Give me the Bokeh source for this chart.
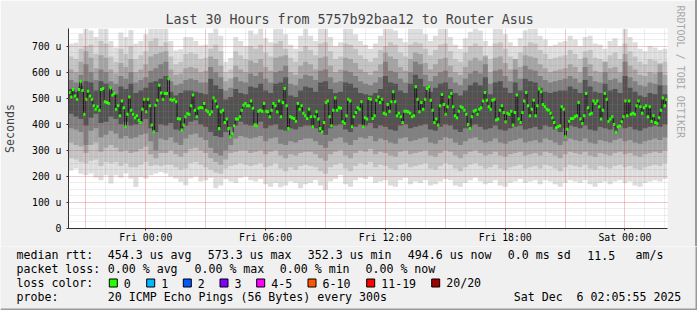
from bokeh.plotting import figure
from bokeh.layouts import column, row
from bokeh.models import FixedTicker, Title, ColumnDataSource, Range1d, Spacer
from bokeh.core.properties import value
from bokeh.embed import file_html
from bokeh.resources import INLINE

# ---------------- data ----------------
T_START = -3.87          # hours relative to Fri 00:00
T_END = 26.13
Y_TOP = 767.5            # microseconds
SMOKE_STEP = 0.25        # hours per smoke column

smoke_max = [709,713,747,770,760,735,770,770,720,695,752,735,762,709,720,745,770,770,770,770,720,683,688,735,
             735,720,702,705,750,770,740,640,655,735,720,700,760,745,770,730,715,770,770,745,705,690,740,770,
             740,720,770,770,735,700,715,770,770,745,720,705,690,710,740,770,770,760,730,715,770,770,770,745,
             720,740,770,770,735,705,690,730,755,770,760,720,700,770,770,745,715,700,730,760,770,770,740,725,
             700,705,715,720,740,725,700,735,740,710,705,690,720,730,700,770,735,715,690,680,700,695,685,690]
smoke_b2_hi = [660,650,690,700,705,670,720,710,660,640,690,670,700,650,665,680,720,730,700,715,660,630,640,670,
               675,670,650,655,690,705,680,600,610,680,665,650,700,690,705,675,660,710,720,690,655,640,680,700,
               685,665,710,715,680,650,660,710,705,690,665,650,640,655,685,700,715,705,675,660,705,715,710,690,
               665,685,705,710,680,650,640,675,700,710,700,665,650,710,715,690,660,650,675,700,715,710,685,670,
               650,655,660,665,685,670,650,680,685,655,650,640,665,675,650,710,680,660,640,630,650,645,635,640]
smoke_b3_hi = [610,600,640,680,655,615,665,655,610,595,635,620,650,600,610,630,660,670,675,680,610,590,595,615,
               620,615,600,605,660,650,625,565,575,625,610,600,645,635,650,620,605,655,660,665,600,590,625,640,
               630,610,655,660,625,600,610,655,650,635,610,600,590,605,630,675,660,650,620,605,650,675,670,635,
               610,630,650,655,625,600,590,620,645,655,645,660,600,655,660,635,610,650,620,665,660,655,630,615,
               600,605,610,615,630,620,600,655,630,605,600,640,615,620,600,670,625,610,590,585,600,595,630,590]
smoke_b4_hi = [570,560,590,630,600,570,610,600,565,555,585,575,600,560,570,580,605,615,630,640,565,550,555,570,
               575,570,560,560,620,600,580,530,540,580,565,560,595,585,600,575,560,600,605,625,555,550,575,590,
               585,570,605,610,580,560,565,605,600,585,565,555,550,560,580,640,605,600,575,560,600,640,630,590,
               565,585,600,605,580,560,550,575,595,605,595,630,555,605,610,585,565,610,575,625,610,605,585,570,
               560,565,570,575,585,575,560,620,585,565,560,600,570,575,560,640,580,565,550,545,560,555,600,550]
smoke_b5_hi = [535,525,550,565,560,530,565,555,530,515,545,535,555,520,530,540,560,565,575,585,525,510,520,530,
               530,525,520,515,575,550,535,495,505,535,520,515,545,540,555,530,520,555,560,580,510,505,530,545,
               540,525,560,565,535,520,525,560,555,540,520,515,510,520,535,585,560,555,530,520,555,590,575,545,
               525,540,555,560,535,520,510,530,550,560,550,580,515,560,565,540,520,560,530,575,565,560,540,525,
               520,525,530,530,545,535,520,570,545,525,520,555,530,535,520,585,540,525,510,505,520,515,550,515]
smoke_b5_lo = [440,430,420,395,425,440,405,410,430,420,400,410,395,400,410,420,385,370,400,395,405,380,375,395,
               410,415,400,390,370,355,350,370,390,395,410,400,395,405,410,385,395,400,380,375,385,380,390,395,
               395,385,370,360,385,395,400,380,370,390,400,395,405,385,395,390,380,375,395,400,385,390,395,400,
               380,375,390,400,395,380,370,385,395,400,390,380,385,395,380,375,385,390,395,380,385,390,380,395,
               390,380,370,385,395,390,385,395,380,375,390,385,380,390,395,385,390,380,375,385,390,395,390,400]
smoke_b4_lo = [385,380,370,320,375,385,350,360,375,365,345,355,345,350,360,365,335,300,345,340,350,330,320,345,
               360,365,350,340,310,290,280,300,320,345,355,350,345,350,355,335,345,350,325,320,335,330,340,345,
               345,335,320,310,335,345,350,330,320,340,350,345,355,335,345,340,330,325,345,350,335,340,345,350,
               330,325,340,350,345,330,320,335,345,350,340,330,335,345,330,325,335,340,345,330,335,340,330,345,
               340,330,320,335,345,340,335,345,330,325,340,335,330,340,345,335,340,330,325,335,340,345,340,350]
smoke_b3_lo = [330,320,315,290,320,330,295,310,320,310,295,300,290,295,305,315,285,270,290,290,300,285,275,290,
               305,310,300,290,270,255,245,265,290,295,300,300,290,295,300,285,295,300,280,270,285,280,290,295,
               295,285,270,260,285,295,300,280,270,290,300,295,305,285,295,290,280,275,295,300,285,290,295,300,
               280,275,290,300,295,280,270,285,295,300,290,280,285,295,280,275,285,290,295,280,285,290,280,295,
               290,280,270,285,295,290,285,295,280,275,290,285,280,290,295,285,290,280,275,285,290,295,290,300]
smoke_b2_lo = [270,265,255,250,260,265,240,255,250,255,240,250,235,235,245,255,240,245,240,245,245,235,225,230,
               250,255,245,235,225,215,210,230,240,245,250,245,240,245,250,235,240,250,230,220,235,225,240,245,
               240,235,220,210,235,245,250,230,220,240,250,245,255,235,245,240,230,225,245,250,235,240,245,250,
               230,225,240,250,245,230,220,235,245,250,240,230,235,245,230,225,235,240,245,230,235,240,230,245,
               240,230,220,235,245,240,235,245,230,225,240,235,230,240,245,235,240,230,225,235,240,245,240,250]
smoke_min = [223,230,210,204,211,196,185,204,173,204,195,211,192,159,198,192,204,211,217,211,200,192,179,166,
             193,200,180,185,195,154,165,190,180,175,195,200,185,180,190,170,160,175,158,165,180,175,154,170,
             175,185,165,148,180,190,205,170,160,185,195,190,200,175,180,185,165,160,185,195,170,180,175,185,
             165,170,180,190,185,165,160,175,185,195,180,170,175,185,165,160,175,180,190,175,180,185,170,185,
             180,170,160,175,185,180,175,185,170,160,175,180,170,180,185,175,180,165,160,175,180,185,180,190]

median_rtt = [
    522,505,533,508,496,533,565,530,438,496,527,508,496,471,458,467,454,533,537,486,
    484,480,540,512,518,458,471,433,489,463,390,438,505,454,438,425,433,415,407,458,
    496,448,496,471,397,371,473,492,550,520,496,518,518,575,496,492,496,486,422,420,
    378,397,429,440,
    438,471,512,454,429,461,464,463,480,454,448,438,448,501,489,467,384,448,454,407,
    420,384,352,365,394,420,420,429,454,473,480,471,471,489,461,397,394,450,454,450,
    480,450,448,429,454,480,471,448,489,429,484,537,471,384,429,425,422,412,480,458,
    471,442,433,422,
    458,429,390,429,448,420,384,371,407,484,489,429,394,454,501,454,463,461,410,403,
    433,496,489,390,429,445,463,458,486,390,425,420,499,496,422,433,492,505,484,496,
    442,438,476,450,486,525,486,433,442,429,407,450,450,448,442,429,433,544,496,448,
    484,458,496,537,
    544,492,454,407,420,397,471,514,476,438,467,505,518,467,433,425,450,467,463,454,
    438,399,384,429,450,454,438,458,463,489,522,492,467,458,492,496,416,420,454,471,
    445,410,442,438,450,397,445,512,420,407,445,489,522,471,433,458,492,433,471,535,
    525,476,467,458,
    454,442,425,407,387,390,394,467,458,352,381,412,422,422,429,433,484,420,403,433,
    518,463,438,442,489,480,489,467,420,454,518,496,412,420,429,399,369,390,394,410,
    429,489,433,489,438,442,438,471,489,467,442,463,471,429,467,412,433,407,403,425,
    454,501,471,495]

x_label_ticks = [0, 6, 12, 18, 24]
x_tick_labels = ["Fri 00:00", "Fri 06:00", "Fri 12:00", "Fri 18:00", "Sat 00:00"]
x_major_grid = [-3, 0, 3, 6, 9, 12, 15, 18, 21, 24]
x_minor_grid = list(range(-3, 27))
y_ticks = [0, 100, 200, 300, 400, 500, 600, 700]
y_tick_labels = ["0", "100 u", "200 u", "300 u", "400 u", "500 u", "600 u", "700 u"]
y_minor = [v * 25 for v in range(0, 31)]

title_text = "Last 30 Hours from 5757b92baa12 to Router Asus"
watermark_text = "RRDTOOL / TOBI OETIKER"
stats_rtt = ["454.3 us avg", "573.3 us max", "352.3 us min", "494.6 us now", "0.0 ms sd", "11.5", "am/s"]
stats_loss = ["0.00 % avg", "0.00 % max", "0.00 % min", "0.00 % now"]
loss_labels = ["0", "1", "2", "3", "4-5", "6-10", "11-19", "20/20"]
loss_colors = ["#26ff00", "#00b8ff", "#0059ff", "#7e00ff", "#ff00ff", "#ff5500", "#ff0000", "#a10000"]
probe_text = "20 ICMP Echo Pings (56 Bytes) every 300s"
date_text = "Sat Dec\u00a0 6 02:05:55 2025"

# ---------------- layout constants (canvas px) ----------------
W, H = 697, 310
FL, FR, FT, FB = 67, 667, 28, 228
TOP_H = 246                       # height of the chart figure
EDGE = 2                          # rrdtool frame shade width
MONO = "DejaVu Sans Mono"
BG = "#f0f0f0"
SHADE = "#9a9a9a"

PW = W - EDGE
p = figure(width=PW, height=TOP_H, output_backend="svg", toolbar_location=None,
           x_range=Range1d(T_START, T_END), y_range=Range1d(0, Y_TOP),
           min_border_left=FL, min_border_right=PW - FR, min_border_top=FT,
           min_border_bottom=TOP_H - FB)
p.frame_align = False
p.background_fill_color = "#ffffff"
p.border_fill_color = BG
p.outline_line_color = None

# title (left-aligned at its measured start)
p.title.text = title_text
p.title.text_font = MONO
p.title.text_font_size = "13.3px"
p.title.text_font_style = "normal"
p.title.align = "left"
p.title.offset = 97
p.title.standoff = 3

p.add_layout(Title(text=watermark_text, text_font=MONO, text_font_size="10px",
                   text_font_style="normal", text_color="#a8a8a8", align="left",
                   offset=-23, standoff=14), "right")

# smoke
n = len(smoke_max)
centers = [T_START + (j + 0.5) * SMOKE_STEP for j in range(n)]
bands = [
    (smoke_min, smoke_max, "#dddddd"),
    (smoke_b2_lo, smoke_b2_hi, "#c3c3c3"),
    (smoke_b3_lo, smoke_b3_hi, "#a4a4a4"),
    (smoke_b4_lo, smoke_b4_hi, "#808080"),
    (smoke_b5_lo, smoke_b5_hi, "#525252"),
]
for lo, hi, col in bands:
    src = ColumnDataSource(dict(x=centers, top=hi, bottom=lo))
    p.vbar(x="x", width=SMOKE_STEP, top="top", bottom="bottom", source=src,
           fill_color=col, line_color=None)

# median
m = len(median_rtt)
mstep = (T_END - T_START) / m
mt = [T_START + (i + 0.5) * mstep for i in range(m)]
msrc = ColumnDataSource(dict(x=mt, y=median_rtt))
p.step(x="x", y="y", source=msrc, mode="center", line_color="#1a1a1a", line_width=1)
p.rect(x="x", y="y", width=2.4, height=3, width_units="screen", height_units="screen",
       source=msrc, fill_color=loss_colors[0], line_color=None)

# axes
for ax in (p.xaxis[0], p.yaxis[0]):
    ax.axis_line_color = "#303030"
    ax.major_tick_line_color = "#303030"
    ax.major_label_text_font = MONO
    ax.major_label_text_font_size = "9.8px"
    ax.major_label_text_color = "#000000"
    ax.major_tick_in = 0
    ax.major_tick_out = 2
    ax.minor_tick_in = 0
    ax.minor_tick_out = 0

p.xaxis.ticker = FixedTicker(ticks=x_label_ticks)
p.xaxis.major_label_overrides = dict(zip(x_label_ticks, x_tick_labels))
p.xaxis.major_label_standoff = 1
p.yaxis.ticker = FixedTicker(ticks=y_ticks)
p.yaxis.major_label_overrides = dict(zip(y_ticks, y_tick_labels))
p.yaxis.major_label_standoff = 5
p.yaxis.axis_label = "Seconds"
p.yaxis.axis_label_text_font = MONO
p.yaxis.axis_label_text_font_style = "normal"
p.yaxis.axis_label_text_font_size = "11.6px"
p.yaxis.axis_label_standoff = 12

# grids over the smoke
p.xgrid.ticker = FixedTicker(ticks=x_major_grid, minor_ticks=x_minor_grid)
p.ygrid.ticker = FixedTicker(ticks=y_ticks, minor_ticks=y_minor)
for g in (p.xgrid[0], p.ygrid[0]):
    g.level = "guide"
    g.grid_line_color = "#ff0000"
    g.grid_line_alpha = 0.3
    g.grid_line_dash = "1 1"
    g.minor_grid_line_color = "#909090"
    g.minor_grid_line_alpha = 0.3
    g.minor_grid_line_dash = "1 1"

edge = Spacer(width=EDGE, height=TOP_H, styles={"background-color": SHADE})

# ---------------- legend strip (pixel coordinates, y downward) ----------------
LH = H - TOP_H
q = figure(width=W, height=LH, output_backend="svg", toolbar_location=None,
           x_range=Range1d(0, W), y_range=Range1d(LH, 0),
           min_border_left=0, min_border_right=0, min_border_top=0, min_border_bottom=0,
           x_axis_location=None, y_axis_location=None)
q.frame_align = False
q.background_fill_color = BG
q.border_fill_color = BG
q.outline_line_color = None
q.xgrid.visible = False
q.ygrid.visible = False

L1, L2, L3, L4 = 254.5 - TOP_H, 268.5 - TOP_H, 282.5 - TOP_H, 296.5 - TOP_H
tx, ty, tt = [], [], []
def put(x, y, t):
    tx.append(x); ty.append(y); tt.append(t)

put(16, L1, "median rtt:")
for x, t in zip([107.3, 207.3, 307.3, 407.3, 507.3, 586.7, 635], stats_rtt):
    put(x, L1, t)
put(16, L2, "packet loss:")
for x, t in zip([107.3, 194, 279.3, 365], stats_loss):
    put(x, L2, t)
put(16, L3, "loss color:")
box_x = [123.3, 160.7, 197.3, 234, 270.7, 322, 380.7, 445.7]
for x, t in zip(box_x, loss_labels):
    put(x, L3, t)
put(16, L4, "probe:")
put(107.3, L4, probe_text)
put(513.3, L4, date_text)

q.text(x=tx, y=ty, text=tt, text_font=value(MONO), text_font_size="11.6px",
       text_color="#000000", text_align="left", text_baseline="middle")
q.rect(x=[bx - 10.5 for bx in box_x], y=[L3] * len(box_x), width=8, height=8,
       fill_color=loss_colors, line_color="#000000", line_width=1)
# bottom and right shade of the rrdtool frame
q.quad(left=[0, W - EDGE], right=[W, W], top=[LH - EDGE, 0], bottom=[LH, LH],
       fill_color=SHADE, line_color=None)

layout = column(row(p, edge, spacing=0), q, spacing=0)
open("out.html", "w").write(file_html(layout, INLINE))
